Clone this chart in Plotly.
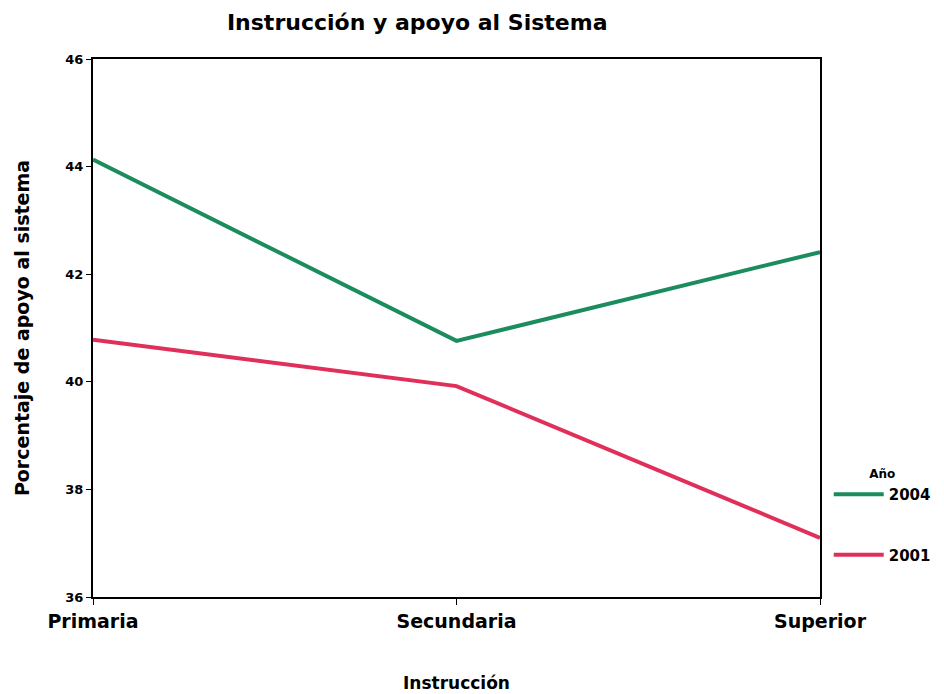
import plotly.graph_objects as go

categories = ["Primaria", "Secundaria", "Superior"]
series_2004 = [44.13, 40.76, 42.41]
series_2001 = [40.78, 39.92, 37.10]
y_ticks = [36, 38, 40, 42, 44, 46]

fig = go.Figure()
fig.add_trace(go.Scatter(x=categories, y=series_2004, mode="lines", name="2004",
                         legendgroup="a", line=dict(color="#1b8c5c", width=4)))
fig.add_trace(go.Scatter(x=categories, y=series_2001, mode="lines", name="2001",
                         legendgroup="b", line=dict(color="#e0305a", width=4)))

ff = "DejaVu Sans, Liberation Sans, sans-serif"
fig.update_layout(
    width=944, height=694,
    paper_bgcolor="white", plot_bgcolor="white",
    margin=dict(l=85, r=132, t=51, b=105),
    title=dict(text="Instrucción y apoyo al Sistema", x=421 / 944, xanchor="center", xref="paper",
               y=1 - 14 / 694, yanchor="middle",
               font=dict(family=ff, size=22, color="black", weight="bold")),
    font=dict(family=ff, color="black"),
    xaxis=dict(type="category", range=[0, 2], showline=True, linecolor="black", linewidth=2,
               mirror=True, ticks="outside", ticklen=6, tickcolor="black", showgrid=False,
               tickfont=dict(size=19, family=ff, weight="bold"),
               title=dict(text="Instrucción", font=dict(size=17, family=ff, weight="bold"), standoff=46)),
    yaxis=dict(range=[36, 46], tickvals=y_ticks, showline=True, linecolor="black", linewidth=2,
               mirror=True, ticks="outside", ticklen=5, tickcolor="black", showgrid=False,
               zeroline=False,
               tickfont=dict(size=13, family=ff, weight="bold"),
               title=dict(text="Porcentaje de apoyo al sistema",
                          font=dict(size=19, family=ff, weight="bold"), standoff=31)),
    legend=dict(title=dict(text="Año", side="top center",
                           font=dict(size=12, family=ff, weight="bold")),
                x=1.012, xanchor="left", y=0.25, yanchor="top",
                font=dict(size=15, family=ff, weight="bold"), itemwidth=50,
                tracegroupgap=38, traceorder="grouped",
                bgcolor="rgba(0,0,0,0)"),
)
fig.write_html("out.html")
